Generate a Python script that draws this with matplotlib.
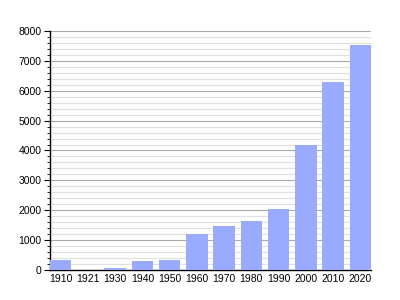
import matplotlib
matplotlib.use("Agg")
import matplotlib.pyplot as plt
from matplotlib.ticker import MultipleLocator

years = ["1910", "1921", "1930", "1940", "1950", "1960",
         "1970", "1980", "1990", "2000", "2010", "2020"]
population = [340, 0, 80, 300, 340, 1190, 1470, 1640, 2040, 4180, 6290, 7525]

plt.rcParams['font.family'] = ['Liberation Sans', 'DejaVu Sans']

fig = plt.figure(figsize=(4, 3), dpi=100)
ax = fig.add_axes([0.125, 0.1, 0.8025, 0.7967])

bar_width = 0.78
ax.bar(range(len(years)), population, width=bar_width, color='#99aaff', zorder=3)

ax.set_xlim(-bar_width / 2, len(years) - 1 + bar_width / 2)
ax.set_ylim(0, 8000)
ax.set_xticks(range(len(years)))
ax.set_xticklabels(years)
ax.yaxis.set_major_locator(MultipleLocator(1000))
ax.yaxis.set_minor_locator(MultipleLocator(200))

ax.grid(axis='y', which='major', color='#aaaaaa', linewidth=0.8, zorder=0)
ax.grid(axis='y', which='minor', color='#e0e0e0', linewidth=0.8, zorder=0)

for side in ('top', 'right'):
    ax.spines[side].set_visible(False)
ax.spines['left'].set_linewidth(1.0)
ax.spines['bottom'].set_linewidth(1.0)

ax.tick_params(axis='x', length=0, labelsize=7.5, pad=3)
ax.tick_params(axis='y', which='major', length=4, labelsize=7.5, pad=2)
ax.tick_params(axis='y', which='minor', length=2)

fig.savefig("out.png", dpi=100)
